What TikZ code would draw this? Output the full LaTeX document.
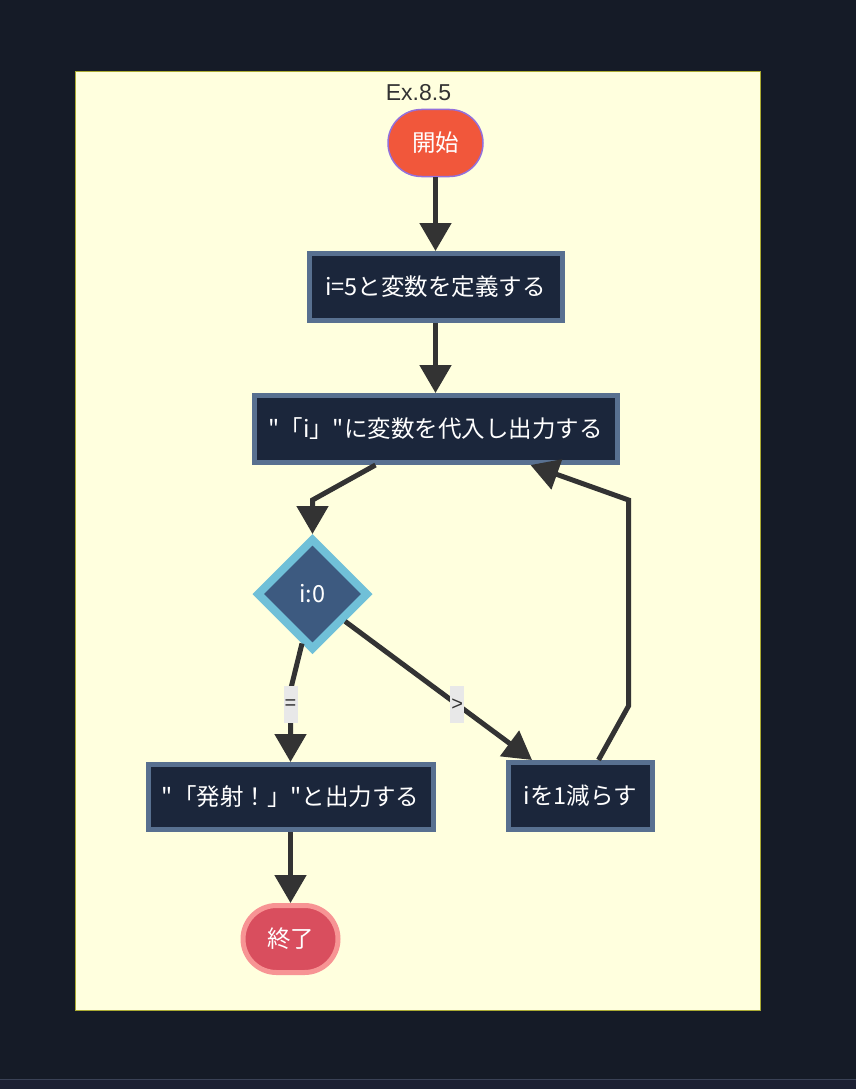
\documentclass[tikz,border=0pt]{standalone}
\usepackage{fontspec}
\setmainfont{Liberation Sans}
\newfontfamily\jpfont{Noto Sans CJK JP}
\usetikzlibrary{arrows.meta,shapes.geometric,shapes.misc}

\definecolor{pagebg}{HTML}{151B27}
\definecolor{stripbg}{HTML}{1C2033}
\definecolor{stripline}{HTML}{3A4256}
\definecolor{framefill}{HTML}{FFFFDE}
\definecolor{frameline}{HTML}{AAAA33}
\definecolor{startfill}{HTML}{F1573B}
\definecolor{startline}{HTML}{9370DB}
\definecolor{boxfill}{HTML}{1B263B}
\definecolor{boxline}{HTML}{587090}
\definecolor{decfill}{HTML}{3D5A80}
\definecolor{decline}{HTML}{70C0D8}
\definecolor{endfill}{HTML}{D94E5E}
\definecolor{endline}{HTML}{F79494}
\definecolor{edgecol}{HTML}{333333}
\definecolor{lblfill}{HTML}{E8E8E8}

\begin{document}
\begin{tikzpicture}[
  x=1pt, y=-1pt,
  every node/.style = {text=white, align=center,
    font=\jpfont\fontsize{23.5}{27}\selectfont},
  proc/.style = {rectangle, draw=boxline, fill=boxfill,
    line width=5pt, minimum height=67pt, inner sep=0pt},
  term/.style = {rounded rectangle, minimum height=67pt, inner sep=0pt},
  cond/.style = {diamond, draw=decline, fill=decfill, line width=8pt,
    minimum width=112pt, minimum height=112pt, inner sep=0pt},
  lbl/.style = {fill=lblfill, text=edgecol, inner sep=0pt,
    minimum width=14pt, minimum height=37pt,
    font=\fontsize{20}{22}\selectfont},
  flow/.style = {draw=edgecol, line width=5pt,
    -{Triangle[length=28pt,width=31pt]}}]

  % background and frame
  \fill[pagebg] (0,0) rectangle (855,1089);
  \fill[stripbg] (0,1079) rectangle (855,1089);
  \draw[stripline, line width=1pt] (0,1079) -- (855,1079);
  \draw[frameline, fill=framefill, line width=1pt] (75,72) rectangle (760,1010);

  \node[text=edgecol, font=\fontsize{23}{26}\selectfont] (title) at (418,93) {Ex.8.5};

  % nodes
  \node[term, draw=startline, fill=startfill, line width=1.5pt,
    minimum width=95pt, minimum height=67pt] (start) at (435,143) {開始};
  \node[proc, minimum width=253pt] (define) at (435,287) {i=5と変数を定義する};
  \node[proc, minimum width=363pt] (output) at (435,429) {"「i」"に変数を代入し出力する};
  \node[cond] (check) at (312,594) {i:0};
  \node[proc, minimum width=285pt, minimum height=65pt] (launch) at (290,797) {"「発射！」"と出力する};
  \node[proc, minimum width=144pt] (decr) at (580,796) {iを1減らす};
  \node[term, draw=endline, fill=endfill, line width=5pt,
    minimum width=95pt] (finish) at (290,939) {終了};

  % edges
  \draw[flow] (start) -- (define);
  \draw[flow] (define) -- (output);
  \draw[flow] ([xshift=-60pt]output.south) -- (312,500) -- (check.north);
  \draw[flow] (check.-102) -- (290,690) -- node[lbl, pos=0.2] {=} (launch);
  \draw[flow] (check.-40) -- node[lbl, pos=0.6] {>} ([xshift=26pt]decr.north west);
  \draw[flow] ([xshift=18pt]decr.north) -- (628,706) -- (628,500)
    -- ([xshift=95pt]output.south);
  \draw[flow] (launch) -- (finish);
\end{tikzpicture}
\end{document}
